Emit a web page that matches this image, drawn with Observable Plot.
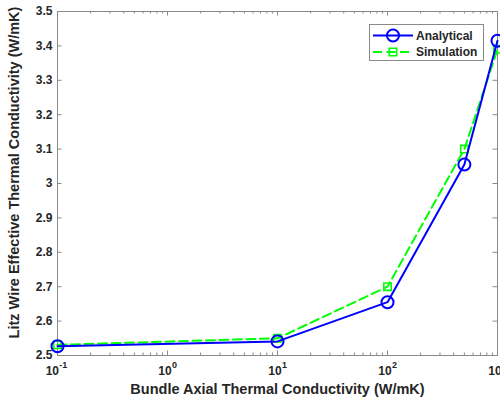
<!DOCTYPE html>
<html><head><meta charset="utf-8">
<script src="https://cdn.jsdelivr.net/npm/d3@7"></script>
<script src="https://cdn.jsdelivr.net/npm/@observablehq/plot@0.6"></script>
<style>
body{margin:0;background:#fff;}
#wrap{position:relative;width:500px;height:404px;overflow:hidden;background:#fff;}
#legend{position:absolute;left:0;top:0;}
</style></head><body><div id="wrap"></div>
<script>
// Data
const conductivity = [0.1, 10, 100, 500, 1000];
const analytical = [2.527, 2.541, 2.655, 3.055, 3.415];
const simulation = [2.531, 2.550, 2.700, 3.100, 3.390];
const xTicks = [0.1, 1, 10, 100, 1000];
const xTickExp = ["-1", "0", "1", "2", "3"];
const yTicks = [2.5, 2.6, 2.7, 2.8, 2.9, 3.0, 3.1, 3.2, 3.3, 3.4, 3.5];
const yTickLabels = ["2.5", "2.6", "2.7", "2.8", "2.9", "3", "3.1", "3.2", "3.3", "3.4", "3.5"];
const seriesNames = ["Analytical", "Simulation"];
const xLabel = "Bundle Axial Thermal Conductivity (W/mK)";
const yLabel = "Litz Wire Effective Thermal Conductivity (W/mK)";

const anaData = conductivity.map((x, i) => ({x, y: analytical[i]}));
const simData = conductivity.map((x, i) => ({x, y: simulation[i]}));
const minorTicks = [];
for (let d = 0.1; d < 1000; d *= 10) for (let k = 2; k <= 9; k++) minorTicks.push(+(d * k).toPrecision(3));

const W = 500, H = 404, mL = 57, mR = 3, mT = 11, mB = 49;
const fw = W - mL - mR, fh = H - mT - mB;
const axisColor = "#8a8a8a", textColor = "#262626";
const font = "'Liberation Sans', Arial, Helvetica, sans-serif";
const blue = "#0000ff", green = "#00ff00";

const expWidth = e => e.length * 5.2;
const w10 = 13.4;

const xLabelMarks = xTicks.flatMap((t, i) => {
  const we = expWidth(xTickExp[i]);
  const end10 = (w10 - we) / 2;
  return [
    Plot.text([t], {x: d => d, frameAnchor: "bottom", dy: 19, dx: end10, text: () => "10", textAnchor: "end", fontSize: 12, fontWeight: "bold", fill: textColor}),
    Plot.text([t], {x: d => d, frameAnchor: "bottom", dy: 12.5, dx: end10 + 0.3, text: () => xTickExp[i], textAnchor: "start", fontSize: 9, fontWeight: "bold", fill: textColor})
  ];
});

const chart = Plot.plot({
  width: W, height: H,
  marginLeft: mL, marginRight: mR, marginTop: mT, marginBottom: mB,
  style: {fontFamily: font, background: "#fff", overflow: "visible"},
  x: {type: "log", domain: [0.1, 1000], axis: null},
  y: {domain: [2.5, 3.5], axis: null},
  marks: [
    // ticks (inside)
    Plot.ruleX(xTicks, {x: d => d, insetTop: fh - 4.5, stroke: axisColor}),
    Plot.ruleX(xTicks, {x: d => d, insetBottom: fh - 4.5, stroke: axisColor}),
    Plot.ruleX(minorTicks, {x: d => d, insetTop: fh - 2.5, stroke: axisColor}),
    Plot.ruleX(minorTicks, {x: d => d, insetBottom: fh - 2.5, stroke: axisColor}),
    Plot.ruleY(yTicks, {y: d => d, insetRight: fw - 4.5, stroke: axisColor}),
    Plot.ruleY(yTicks, {y: d => d, insetLeft: fw - 4.5, stroke: axisColor}),
    Plot.frame({stroke: axisColor, strokeWidth: 1}),
    // y tick labels
    Plot.text(yTicks, {y: d => d, frameAnchor: "left", dx: -5, textAnchor: "end", text: (d, i) => yTickLabels[i], fontSize: 12, fontWeight: "bold", fill: textColor}),
    ...xLabelMarks,
    // axis titles
    Plot.text([xLabel], {frameAnchor: "bottom", dy: 38, textAnchor: "middle", text: d => d, fontSize: 14.5, fontWeight: "bold", fill: textColor}),
    Plot.text([yLabel], {frameAnchor: "left", dx: -43, dy: -11, rotate: -90, textAnchor: "middle", text: d => d, fontSize: 14.5, fontWeight: "bold", fill: textColor}),
    // series
    Plot.line(simData, {x: "x", y: "y", stroke: green, strokeWidth: 2, strokeDasharray: "9,4.5"}),
    Plot.dot(simData, {x: "x", y: "y", symbol: "square", r: 4.2, stroke: green, strokeWidth: 1.6, fill: "none"}),
    Plot.line(anaData, {x: "x", y: "y", stroke: blue, strokeWidth: 2}),
    Plot.dot(anaData, {x: "x", y: "y", symbol: "circle", r: 6, stroke: blue, strokeWidth: 2, fill: "none"})
  ]
});
const wrap = document.getElementById("wrap");
wrap.appendChild(chart);

// legend overlay (inside plot area, top-right)
const lg = d3.select(wrap).append("svg").attr("id", "legend").attr("width", W).attr("height", H)
  .style("font-family", font);
lg.append("rect").attr("x", 369.5).attr("y", 24.5).attr("width", 114).attr("height", 36)
  .attr("fill", "#fff").attr("stroke", axisColor).attr("stroke-width", 1);
const rows = [
  {name: seriesNames[0], color: blue, dash: null, sym: "circle", y: 35.5},
  {name: seriesNames[1], color: green, dash: "9,4.5", sym: "square", y: 52}
];
rows.forEach(r => {
  lg.append("line").attr("x1", 373).attr("x2", 413).attr("y1", r.y).attr("y2", r.y)
    .attr("stroke", r.color).attr("stroke-width", 2).attr("stroke-dasharray", r.dash);
  if (r.sym === "circle") {
    lg.append("circle").attr("cx", 393).attr("cy", r.y).attr("r", 6).attr("fill", "none").attr("stroke", r.color).attr("stroke-width", 2);
  } else {
    lg.append("rect").attr("x", 393 - 3.7).attr("y", r.y - 3.7).attr("width", 7.4).attr("height", 7.4).attr("fill", "none").attr("stroke", r.color).attr("stroke-width", 1.6);
  }
  lg.append("text").attr("x", 416).attr("y", r.y).attr("dy", "0.36em").text(r.name)
    .attr("font-size", 12).attr("font-weight", "bold").attr("fill", textColor);
});
</script>
</body></html>
